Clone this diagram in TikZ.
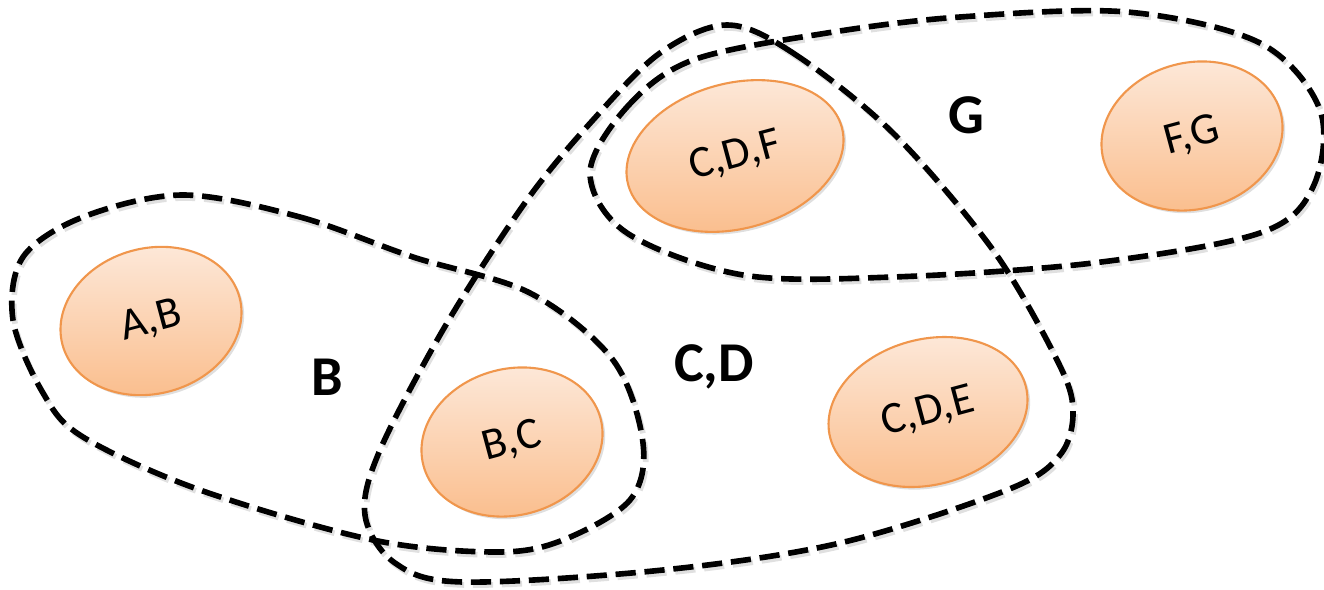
\documentclass[tikz,border=0pt]{standalone}
\usepackage{fontspec}
\setmainfont{Carlito}
\usepackage{xcolor}
\usepackage{tikz}
\usetikzlibrary{shapes.geometric,shadows}

\definecolor{peachtop}{RGB}{253,234,220}
\definecolor{peachbot}{RGB}{250,188,138}
\definecolor{peachline}{RGB}{240,150,76}

\tikzset{
  bag/.style={ellipse,draw=peachline,line width=1.2pt,top color=peachtop,bottom color=peachbot,
    rotate=15,inner sep=0pt,font=\fontsize{25.5}{28}\selectfont,
    drop shadow={shadow xshift=1.5pt,shadow yshift=-1.5pt,opacity=0.25}},
  hyperedge/.style={line width=3.2pt,dash pattern=on 11.5pt off 5pt},
  edgeshadow/.style={hyperedge,gray!60,opacity=0.4,shift={(2,3)}},
  sepset/.style={font=\fontsize{32}{36}\selectfont\bfseries}
}

\begin{document}
\begin{tikzpicture}[x=0.02cm,y=-0.02cm]
\useasboundingbox (0,0) rectangle (1324,589);
\def\loopB{(183,195) (300,217) (413,257) (530,293) (613,360) (643,443) (630,500) (563,540) (497,552) (373,540) (200,490) (83,437) (43,393) (13,320) (23,257) (83,217)}
\def\loopCD{(727,25) (793,53) (893,133) (993,250) (1057,360) (1073,410) (1060,455) (1007,490) (840,543) (663,570) (463,582) (395,563) (365,515) (380,450) (447,323) (527,200) (593,120) (660,53)}
\def\loopG{(590,173) (627,107) (693,60) (827,33) (960,17) (1127,12) (1260,43) (1320,110) (1313,187) (1260,233) (1093,263) (893,277) (743,275) (627,233)}
\foreach \p in {\loopB,\loopCD,\loopG}{
  \draw[edgeshadow] plot[smooth cycle,tension=0.55] coordinates {\p};
}
\foreach \p in {\loopB,\loopCD,\loopG}{
  \draw[hyperedge] plot[smooth cycle,tension=0.55] coordinates {\p};
}
\node[bag,minimum width=104.3pt,minimum height=82.8pt] (ab) at (151,321) {A,B};
\node[bag,minimum width=104.3pt,minimum height=83.3pt] (bc) at (512,442) {B,C};
\node[bag,minimum width=125.9pt,minimum height=82.8pt] (cdf) at (735,156) {C,D,F};
\node[bag,minimum width=115.1pt,minimum height=82.8pt] (cde) at (928,412) {C,D,E};
\node[bag,minimum width=104.3pt,minimum height=83.3pt] (fg) at (1192,136) {F,G};
\node[sepset] (b) at (327,377) {B};
\node[sepset] (cd) at (714,367) {C,D};
\node[sepset] (g) at (966,115) {G};
\end{tikzpicture}
\end{document}
